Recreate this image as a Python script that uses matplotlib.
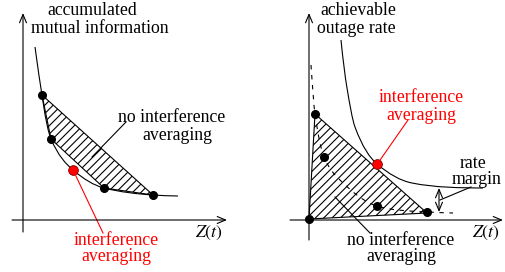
import matplotlib.pyplot as plt
from matplotlib.path import Path
from matplotlib.patches import PathPatch, Polygon

plt.rcParams['font.family'] = ['Liberation Serif', 'DejaVu Serif']
plt.rcParams['mathtext.fontset'] = 'stix'
plt.rcParams['hatch.linewidth'] = 0.8

# everything is in picture pixels (x right, y down)

# left panel: accumulated mutual information
left_curve = [(35, 47), (40.3, 84.3), (45.7, 126.7), (51, 139),
              (58.3, 155.9), (65.7, 163.8), (73, 170),
              (83.3, 178.8), (93.7, 185.4), (104, 188),
              (120.3, 192.1), (136.7, 193.9), (153, 195),
              (161.3, 195.6), (169.7, 195.8), (178, 196)]
left_hatch = [(42, 95), (153, 195), (104, 188), (51, 139)]
left_dots_x = [42, 51, 104, 153]
left_dots_y = [95, 139, 188, 195]
left_red = (73, 170)

# right panel: achievable outage rate
right_curve = [(341, 40), (343, 60), (345, 76), (347, 88),
               (349.7, 104), (352.3, 119.8), (355, 127),
               (362.3, 146.8), (369.7, 157.8), (377, 164),
               (388.7, 173.9), (400.3, 180.7), (412, 183),
               (435.7, 187.7), (459.3, 187.8), (483, 188)]
right_dashed = [(311, 65), (312.3, 83.7), (313.7, 104.7), (315, 114),
                (318, 135), (321, 149.8), (324, 157),
                (329.3, 169.8), (334.7, 174.7), (340, 180),
                (352.3, 192.3), (364.7, 202.3), (377, 206),
                (393.7, 211), (410.3, 211), (427, 212),
                (435.7, 212.5), (444.3, 212.7), (453, 213)]
right_hatch = [(309, 219), (315, 114), (427, 213)]
right_dots_x = [309, 315, 324, 377, 427]
right_dots_y = [219, 114, 157, 206, 212]
right_red = (377, 164)


def bezier(pts):
    codes = [Path.MOVETO] + [Path.CURVE4] * (len(pts) - 1)
    return Path(pts, codes)


def arrow(ax, start, end, style='->'):
    ax.annotate('', xy=end, xytext=start,
                arrowprops=dict(arrowstyle=style + ',head_length=0.6,head_width=0.25',
                                color='black', lw=0.8, shrinkA=0, shrinkB=0))


def main():
    fig = plt.figure(figsize=(5.06, 2.72), dpi=100)
    ax = fig.add_axes([0, 0, 1, 1])
    ax.set_xlim(0, 506)
    ax.set_ylim(272, 0)
    ax.axis('off')

    fs = 12.8
    red = '#ff0000'

    # axes of the two sketches
    arrow(ax, (23, 232), (23, 13))
    arrow(ax, (12, 220), (227, 220))
    arrow(ax, (309, 240), (309, 13))
    arrow(ax, (290, 220), (503, 220))

    # left sketch
    ax.add_patch(Polygon(left_hatch, closed=True, facecolor='none',
                         edgecolor='black', hatch='////', lw=0.8))
    ax.add_patch(PathPatch(bezier(left_curve), facecolor='none',
                           edgecolor='black', lw=0.8))
    ax.plot(left_dots_x, left_dots_y, 'o', color='black', ms=5.5)
    ax.plot(*left_red, 'o', color=red, mec='#800000', ms=7, mew=0.6)

    ax.text(92, 15, 'accumulated', fontsize=fs, ha='center', va='baseline')
    ax.text(100, 33, 'mutual information', fontsize=fs, ha='center', va='baseline')
    ax.text(172, 122, 'no interference', fontsize=fs, ha='center', va='baseline')
    ax.text(177, 140, 'averaging', fontsize=fs, ha='center', va='baseline')
    ax.plot([126, 92], [122, 157], color='black', lw=0.8)
    ax.text(116, 245, 'interference', fontsize=fs, ha='center', va='baseline', color=red)
    ax.text(116, 261, 'averaging', fontsize=fs, ha='center', va='baseline', color=red)
    ax.plot([74, 103], [172, 233], color=red, lw=0.8)
    ax.text(209, 237, '$Z(t)$', fontsize=fs, ha='center', va='baseline')

    # right sketch
    ax.add_patch(Polygon(right_hatch, closed=True, facecolor='none',
                         edgecolor='black', hatch='////', lw=0.8))
    ax.add_patch(PathPatch(bezier(right_dashed), facecolor='none',
                           edgecolor='black', lw=0.8, linestyle=(0, (4, 5))))
    ax.add_patch(PathPatch(bezier(right_curve), facecolor='none',
                           edgecolor='black', lw=0.8))
    ax.plot(right_dots_x, right_dots_y, 'o', color='black', ms=5.5)
    ax.plot(*right_red, 'o', color=red, mec='#800000', ms=7, mew=0.6)

    arrow(ax, (439, 188), (439, 212), style='<->')
    ax.plot([440, 471], [200, 187], color='black', lw=0.8)
    ax.text(473, 168, 'rate', fontsize=fs, ha='center', va='baseline')
    ax.text(477, 184, 'margin', fontsize=fs, ha='center', va='baseline')

    ax.text(358, 15, 'achievable', fontsize=fs, ha='center', va='baseline')
    ax.text(356, 33, 'outage rate', fontsize=fs, ha='center', va='baseline')
    ax.text(421, 102, 'interference', fontsize=fs, ha='center', va='baseline', color=red)
    ax.text(421, 120, 'averaging', fontsize=fs, ha='center', va='baseline', color=red)
    ax.plot([378, 408], [163, 120], color=red, lw=0.8)
    ax.text(401, 245, 'no interference', fontsize=fs, ha='center', va='baseline')
    ax.text(401, 261, 'averaging', fontsize=fs, ha='center', va='baseline')
    ax.plot([335, 370], [197, 233], color='black', lw=0.8)
    ax.text(486, 237, '$Z(t)$', fontsize=fs, ha='center', va='baseline')

    fig.savefig('out.png', dpi=100)


if __name__ == "__main__":
    main()
